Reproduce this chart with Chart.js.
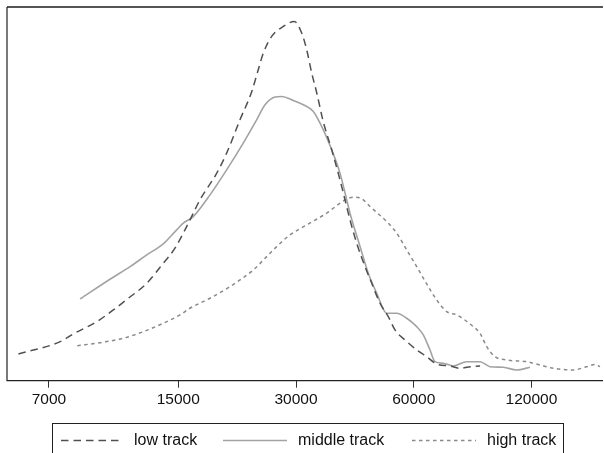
<!DOCTYPE html>
<html>
<head>
<meta charset="utf-8">
<script src="https://cdn.jsdelivr.net/npm/chart.js@4.4.1/dist/chart.umd.min.js"></script>
<style>
  html, body { margin: 0; padding: 0; background: #fff; }
  #wrap { position: relative; width: 604px; height: 453px; overflow: hidden; font-family: "Liberation Sans", Arial, sans-serif; }
  #c { position: absolute; left: 0; top: 0; }
  #legend { position: absolute; left: 52px; top: 423px; width: 512px; height: 40px; border: 1px solid #222; box-sizing: border-box; }
  .item { position: absolute; top: 6px; height: 20px; font-size: 16px; line-height: 20px; color: #111; white-space: nowrap; }
  .item svg { position: absolute; top: 0; }
</style>
</head>
<body>
<div id="wrap">
  <canvas id="c" width="604" height="453"></canvas>
  <div id="legend"></div>
</div>
<script>
// ---- data (x: value on log axis, y: density, arbitrary units) ----
const tickValues = [7000, 15000, 30000, 60000, 120000];
const seriesNames = ["low track", "middle track", "high track"];

const lowX = [5850, 7480, 8080, 9280, 10230, 11180, 12460, 13730, 14710, 15600, 16070, 17040, 18810, 19940, 21570, 23110, 24020, 24750, 26000, 27840, 29700, 31020, 31950, 32910, 33890, 35230, 37020, 38870, 40440, 41230, 42890, 45040, 46860, 49200, 51660, 53740, 57010, 61070, 64780, 68710, 74310, 78810, 81980, 88660];
const lowY = [7.15, 10.44, 12.51, 15.80, 18.93, 22.07, 26.08, 31.44, 35.46, 40.36, 43.04, 48.39, 55.54, 60.90, 69.82, 77.32, 83.21, 87.68, 92.13, 94.80, 96.14, 93.04, 88.56, 82.33, 77.05, 69.28, 61.78, 53.75, 46.52, 43.04, 36.80, 30.53, 26.08, 20.73, 17.14, 13.58, 10.90, 8.22, 6.43, 4.47, 3.94, 3.32, 3.59, 3.94];

const midX = [8410, 10030, 11290, 12460, 13730, 14860, 15450, 16380, 18080, 19940, 21990, 23800, 25000, 26510, 27580, 29530, 31320, 33220, 35230, 37020, 38870, 40440, 41230, 43740, 45920, 48260, 51180, 54290, 57580, 61070, 63490, 66050, 68020, 71430, 75770, 81980, 88660, 94040, 101710, 110050, 119010];
const midY = [21.88, 27.16, 30.53, 33.66, 36.61, 40.36, 42.15, 43.92, 49.73, 56.43, 63.58, 69.82, 73.83, 75.90, 76.06, 74.99, 73.83, 72.04, 67.14, 61.78, 55.54, 48.39, 44.83, 35.89, 28.76, 23.41, 18.05, 18.05, 16.71, 14.46, 12.24, 8.22, 5.09, 4.66, 3.94, 5.09, 5.09, 3.75, 3.59, 2.87, 3.59];

const highX = [8275, 9460, 10850, 12210, 13730, 15150, 16070, 18080, 20340, 23330, 25250, 26780, 28960, 31950, 35950, 38870, 40510, 42470, 44250, 46390, 51180, 54290, 57580, 61070, 64780, 68710, 72870, 77290, 85230, 88660, 92220, 96840, 103750, 116720, 126240, 136520, 153590, 166190, 174530, 179740];
const highY = [9.37, 10.18, 11.36, 13.12, 15.37, 17.60, 19.39, 22.07, 25.17, 29.65, 33.21, 35.89, 39.02, 41.70, 44.83, 47.51, 48.66, 49.12, 48.66, 46.60, 42.58, 39.47, 35.00, 30.53, 25.90, 21.61, 18.48, 17.60, 14.46, 12.69, 9.11, 6.43, 5.54, 5.09, 4.20, 3.32, 2.87, 3.75, 4.34, 3.75];

const xMin = 5470, xMax = 184000;
const yMin = 0, yMax = 100;

// ---- styles ----
const styles = [
  { color: "#505050", width: 1.5, dash: [7.5, 5] },
  { color: "#a3a3a3", width: 1.6, dash: [] },
  { color: "#8a8a8a", width: 1.5, dash: [3.5, 3.5] }
];

function zip(xs, ys) { return xs.map((x, i) => ({ x: x, y: ys[i] })); }
const seriesData = [zip(lowX, lowY), zip(midX, midY), zip(highX, highY)];

const datasets = seriesNames.map((name, i) => ({
  label: name,
  data: seriesData[i],
  borderColor: styles[i].color,
  borderWidth: styles[i].width,
  borderDash: styles[i].dash,
  pointRadius: 0,
  fill: false,
  cubicInterpolationMode: "monotone"
}));

const frame = {
  id: "frame",
  afterDraw(chart) {
    const { ctx, chartArea: a } = chart;
    const xr = chart.width - 1;
    ctx.save();
    ctx.lineCap = "butt";
    ctx.strokeStyle = "#555";
    ctx.lineWidth = 2;
    ctx.beginPath(); ctx.moveTo(a.left, a.top); ctx.lineTo(xr, a.top); ctx.stroke();
    ctx.strokeStyle = "#222";
    ctx.lineWidth = 1.2;
    ctx.beginPath();
    ctx.moveTo(a.left, a.top); ctx.lineTo(a.left, a.bottom); ctx.lineTo(xr, a.bottom);
    ctx.stroke();
    ctx.restore();
  }
};

Chart.defaults.font.family = '"Liberation Sans", Arial, sans-serif';
Chart.defaults.color = "#111";

new Chart(document.getElementById("c"), {
  type: "line",
  data: { datasets: datasets },
  options: {
    responsive: false,
    animation: false,
    layout: { padding: { left: 7, top: 7, right: 0, bottom: 0 } },
    plugins: { legend: { display: false }, tooltip: { enabled: false } },
    scales: {
      x: {
        type: "logarithmic",
        min: xMin, max: xMax,
        afterBuildTicks: s => { s.ticks = tickValues.map(v => ({ value: v })); },
        afterFit: s => { s.height = 72.3; },
        grid: { display: true, drawOnChartArea: false, drawTicks: true, tickLength: 7, color: "#333", lineWidth: 1 },
        border: { display: false },
        ticks: { autoSkip: false, maxRotation: 0, padding: 3, font: { size: 15.5 }, color: "#111", callback: v => String(v) }
      },
      y: {
        display: false,
        min: yMin, max: yMax
      }
    }
  },
  plugins: [frame]
});

// ---- HTML legend (real text) ----
const legendPos = [
  { line: [8, 70], text: 81 },
  { line: [170, 234], text: 245 },
  { line: [359, 423], text: 434 }
];
const lg = document.getElementById("legend");
seriesNames.forEach((name, i) => {
  const p = legendPos[i];
  const st = styles[i];
  const w = p.line[1] - p.line[0];
  const svg = `<svg width="${w}" height="20" style="left:${p.line[0]}px"><line x1="0" y1="10.5" x2="${w}" y2="10.5" stroke="${st.color}" stroke-width="${st.width}" ${st.dash.length ? `stroke-dasharray="${st.dash.join(",")}"` : ""}/></svg>`;
  const d1 = document.createElement("div");
  d1.className = "item"; d1.style.left = "0px"; d1.innerHTML = svg;
  lg.appendChild(d1);
  const d2 = document.createElement("div");
  d2.className = "item"; d2.style.left = p.text + "px"; d2.textContent = name;
  lg.appendChild(d2);
});
</script>
</body>
</html>
